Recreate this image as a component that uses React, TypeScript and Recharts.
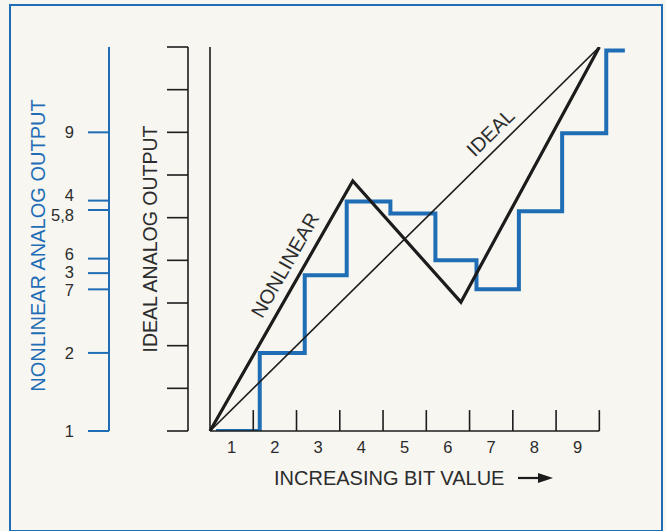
import React from 'react';
import { ComposedChart, Line, XAxis, YAxis, ReferenceLine, ReferenceDot, Label } from 'recharts';

const BLUE = '#1f6db5';
const INK = '#1c1c1c';
const TEXT = '#2c2c2c';
const FONT = '"Liberation Sans", Arial, Helvetica, sans-serif';

// bit value axis
const bitLabels = ['1', '2', '3', '4', '5', '6', '7', '8', '9'];
const bitLabelPositions = [0.5, 1.5, 2.5, 3.5, 4.5, 5.5, 6.5, 7.5, 8.5];
const bitTickPositions = [1, 2, 3, 4, 5, 6, 7, 8, 9];

// ideal analog output scale
const idealTicks = [0, 1, 2, 3, 4, 5, 6, 7, 8, 9];

// ideal transfer line
const idealX = [0, 9];
const idealY = [0, 9];

// nonlinear transfer line
const nonlinearX = [0, 3.3, 5.8, 9];
const nonlinearY = [0, 5.86, 3.02, 9];

// nonlinear staircase output
const stairX = [0.14, 1.15, 2.19, 3.16, 4.17, 5.21, 6.16, 7.14, 8.14, 9.16, 9.59];
const stairY = [0, 1.83, 3.65, 5.38, 5.1, 4.0, 3.32, 5.15, 6.98, 8.92, 8.92];

// nonlinear analog output axis ticks
const nlTickValues = [0, 1.83, 3.7, 5.4, 5.18, 4.04, 3.32, 7.0];
const nlTickLabels = ['1', '2', '3', '4', '5,8', '6', '7', '9'];

const NUDGE: Record<string, number> = { '4': -5, '5,8': 5, '6': -4, '3': -1, '7': 1 };

function NlTick(props: any) {
  const { x, y, payload } = props;
  const idx = nlTickValues.indexOf(payload.value);
  const label = idx >= 0 ? nlTickLabels[idx] : '';
  return (
    <text x={x} y={y + (NUDGE[label] || 0)} dy="0.355em" textAnchor="end" fontSize={16.5} fill={TEXT} fontFamily={FONT}>
      {label}
    </text>
  );
}

function XTitle(props: any) {
  const vb = props.viewBox || { x: 210, y: 431 };
  const x0 = vb.x + 64;
  const y0 = vb.y + 54;
  const ay = y0 - 7;
  return (
    <g>
      <text x={x0} y={y0} fontSize={20} fill={TEXT} fontFamily={FONT}>INCREASING BIT VALUE</text>
      <line x1={x0 + 244} y1={ay} x2={x0 + 266} y2={ay} stroke={INK} strokeWidth={2.2} />
      <polygon points={`${x0 + 264},${ay - 5} ${x0 + 279},${ay} ${x0 + 264},${ay + 5}`} fill={INK} />
    </g>
  );
}

function IdealTitle(props: any) {
  const vb = props.viewBox || { x: 109, y: 47, width: 79, height: 384 };
  const cx = vb.x + vb.width / 2 + 1.5;
  const cy = vb.y + vb.height / 2;
  return (
    <text x={cx} y={cy} dy="0.355em" textAnchor="middle" transform={`rotate(-90 ${cx} ${cy})`} fontSize={19.5} fill={TEXT} fontFamily={FONT}>
      IDEAL ANALOG OUTPUT
    </text>
  );
}

function NlTitle(props: any) {
  const vb = props.viewBox || { x: 0, y: 47, width: 109, height: 384 };
  const cx = vb.x + 37.5;
  const cy = vb.y + vb.height / 2 + 6.5;
  return (
    <text x={cx} y={cy} dy="0.355em" textAnchor="middle" transform={`rotate(-90 ${cx} ${cy})`} fontSize={20} fill={BLUE} fontFamily={FONT}>
      NONLINEAR ANALOG OUTPUT
    </text>
  );
}

function rotatedText(text: string, angle: number) {
  return (props: any) => {
    const vb = props.viewBox || { x: 0, y: 0, width: 0, height: 0 };
    const cx = vb.x + (vb.width || 0) / 2;
    const cy = vb.y + (vb.height || 0) / 2;
    return (
      <text x={cx} y={cy} dy="0.355em" textAnchor="middle" transform={`rotate(${angle} ${cx} ${cy})`} fontSize={20} fill={TEXT} fontFamily={FONT}>
        {text}
      </text>
    );
  };
}

export default function App() {
  const idealData = idealX.map((x, i) => ({ x, y: idealY[i] }));
  const nonlinearData = nonlinearX.map((x, i) => ({ x, y: nonlinearY[i] }));
  const stairData = stairX.map((x, i) => ({ x, y: stairY[i] }));

  return (
    <div style={{ position: 'absolute', left: 0, top: 0, width: 666, height: 531, background: '#f7f6f1', overflow: 'hidden' }}>
      <div
        style={{
          position: 'absolute', left: 9, top: 4, width: 654, height: 528,
          boxSizing: 'border-box', border: `2.5px solid ${BLUE}`,
        }}
      />
      <div style={{ position: 'absolute', left: 0, top: 0 }}>
        <ComposedChart width={666} height={531} margin={{ top: 47, right: 40.7, bottom: 60, left: 0 }} style={{ fontFamily: FONT }}>
          <XAxis
            type="number"
            dataKey="x"
            domain={[0, 9.6]}
            ticks={bitLabelPositions}
            interval={0}
            tickFormatter={(v: number) => bitLabels[bitLabelPositions.indexOf(v)] ?? ''}
            tickLine={false}
            axisLine={false}
            tickSize={0}
            tickMargin={10.6}
            height={40}
            tick={{ fill: TEXT, fontSize: 16.5, fontFamily: FONT }}
            label={<Label content={XTitle} />}
          />
          <YAxis
            yAxisId="a_main"
            type="number"
            domain={[0, 9]}
            allowDataOverflow
            width={22}
            tick={false}
            tickLine={false}
            axisLine={{ stroke: INK, strokeWidth: 1.6 }}
          />
          <YAxis
            yAxisId="b_ideal"
            type="number"
            domain={[0, 9]}
            allowDataOverflow
            ticks={idealTicks}
            interval={0}
            width={79}
            tick={() => <g />}
            tickSize={21}
            tickLine={{ stroke: INK, strokeWidth: 1.6 }}
            axisLine={{ stroke: INK, strokeWidth: 1.6 }}
            label={<Label content={IdealTitle} />}
          />
          <YAxis
            yAxisId="c_nl"
            type="number"
            domain={[0, 9]}
            allowDataOverflow
            ticks={nlTickValues}
            interval={0}
            width={109}
            tickSize={21}
            tickMargin={14}
            tick={<NlTick />}
            tickLine={{ stroke: BLUE, strokeWidth: 2 }}
            axisLine={{ stroke: BLUE, strokeWidth: 2 }}
            label={<Label content={NlTitle} />}
          />

          <Line yAxisId="a_main" data={stairData} dataKey="y" type="stepAfter" stroke={BLUE} strokeWidth={4} dot={false} activeDot={false} isAnimationActive={false} strokeLinejoin="miter" />
          <Line yAxisId="a_main" data={idealData} dataKey="y" type="linear" stroke={INK} strokeWidth={1.6} dot={false} activeDot={false} isAnimationActive={false} />
          <Line yAxisId="a_main" data={nonlinearData} dataKey="y" type="linear" stroke={INK} strokeWidth={3.2} dot={false} activeDot={false} isAnimationActive={false} strokeLinejoin="miter" />

          <ReferenceLine yAxisId="a_main" segment={[{ x: 0, y: 0 }, { x: 9, y: 0 }]} stroke={INK} strokeWidth={1.6} />
          {bitTickPositions.map((t) => (
            <ReferenceLine key={t} yAxisId="a_main" segment={[{ x: t, y: 0 }, { x: t, y: 0.49 }]} stroke={INK} strokeWidth={1.6} />
          ))}

          <ReferenceDot yAxisId="a_main" x={1.73} y={3.89} r={1} fillOpacity={0} strokeOpacity={0} label={<Label content={rotatedText('NONLINEAR', -60.5)} />} />
          <ReferenceDot yAxisId="a_main" x={6.48} y={7.0} r={1} fillOpacity={0} strokeOpacity={0} label={<Label content={rotatedText('IDEAL', -44.6)} />} />
        </ComposedChart>
      </div>
    </div>
  );
}
